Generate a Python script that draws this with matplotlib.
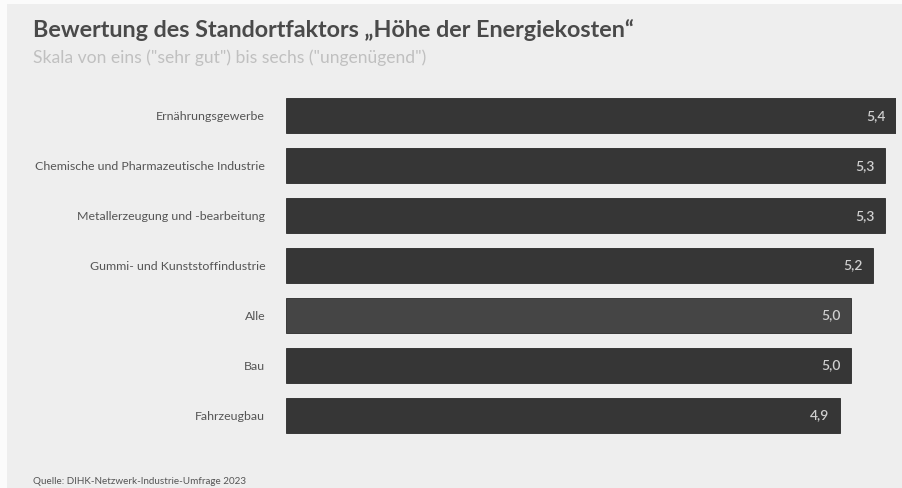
import matplotlib
matplotlib.use("Agg")
import matplotlib.pyplot as plt
from matplotlib.patches import Rectangle

categories = [
    "Ernährungsgewerbe",
    "Chemische und Pharmazeutische Industrie",
    "Metallerzeugung und -bearbeitung",
    "Gummi- und Kunststoffindustrie",
    "Alle",
    "Bau",
    "Fahrzeugbau",
]
values = [5.4, 5.3, 5.3, 5.2, 5.0, 5.0, 4.9]
value_labels = ["5,4", "5,3", "5,3", "5,2", "5,0", "5,0", "4,9"]

title = "Bewertung des Standortfaktors \u201eHöhe der Energiekosten\u201c"
subtitle = 'Skala von eins ("sehr gut") bis sechs ("ungenügend")'
source = "Quelle: DIHK-Netzwerk-Industrie-Umfrage 2023"

plt.rcParams["font.family"] = ["Lato", "DejaVu Sans"]

W, H = 903, 488
fig = plt.figure(figsize=(W / 100, H / 100), dpi=100)
fig.patch.set_facecolor("#fbfbfb")

# light grey panel behind everything
fig.patches.append(Rectangle((7 / W, 0), 1 - 7 / W, 1 - 4 / H,
                             transform=fig.transFigure, facecolor="#eeeeee",
                             edgecolor="none", zorder=-10))

ax = fig.add_axes([286 / W, 1 - 440 / H, (896 - 286) / W, (440 - 91) / H])
ax.set_facecolor("none")
ax.set_zorder(5)

ypos = list(range(len(categories)))
colors = ["#454545" if c == "Alle" else "#363636" for c in categories]
ax.barh(ypos, values, height=0.7, color=colors, edgecolor="#2a2a2a", linewidth=0.6)

for y, v, lab in zip(ypos, values, value_labels):
    ax.annotate(lab, xy=(v, y), xytext=(-7.5, 0), textcoords="offset points",
                ha="right", va="center", color="#d0d0d0", fontsize=10,
                fontweight="semibold")

ax.set_xlim(0, 5.4)
ax.set_ylim(len(categories) - 0.5, -0.5)
ax.set_yticks(ypos)
ax.set_yticklabels(categories, fontsize=8.9, color="#555555")
ax.tick_params(axis="y", length=0, pad=15)
ax.set_xticks([])
for s in ax.spines.values():
    s.set_visible(False)

fig.text(33 / W, 1 - 30 / H, title, fontsize=16.8, fontweight="bold",
         color="#4a4a4a", va="center", ha="left")
fig.text(33 / W, 1 - 58 / H, subtitle, fontsize=12.6, color="#c0c0c0",
         va="center", ha="left")
fig.text(33 / W, 1 - 481 / H, source, fontsize=7.1, color="#555555",
         va="center", ha="left")

fig.savefig("out.png", dpi=100, facecolor=fig.get_facecolor())
